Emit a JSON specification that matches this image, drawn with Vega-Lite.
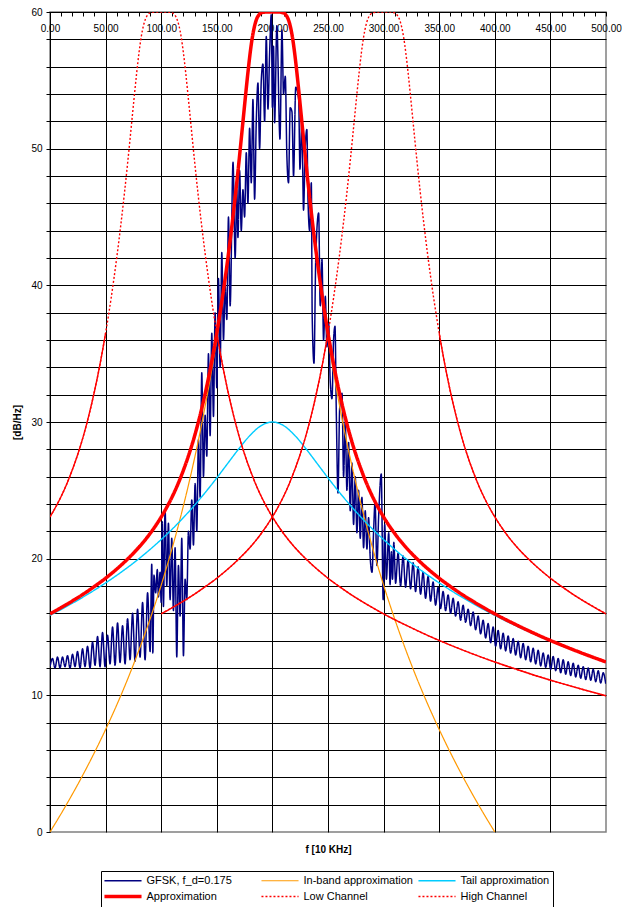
{
"$schema": "https://vega.github.io/schema/vega-lite/v6.json",
"width": 556,
"height": 820,
"padding": {"left": 12, "top": 7, "right": 0, "bottom": 0},
"config": {
  "font": "Liberation Sans",
  "view": {"stroke": "#808080", "strokeWidth": 1.5},
  "axis": {"labelFont": "Liberation Sans", "titleFont": "Liberation Sans"},
  "legend": {"labelFont": "Liberation Sans"}
},
"data": {"values": [
{"series":"GFSK, f_d=0.175","f":0,"db":12.1},{"series":"GFSK, f_d=0.175","f":2.25,"db":12.7},{"series":"GFSK, f_d=0.175","f":4.5,"db":12.0},{"series":"GFSK, f_d=0.175","f":6.75,"db":12.8},{"series":"GFSK, f_d=0.175","f":9,"db":12.0},{"series":"GFSK, f_d=0.175","f":11.25,"db":12.8},{"series":"GFSK, f_d=0.175","f":13.5,"db":12.1},{"series":"GFSK, f_d=0.175","f":15.75,"db":12.9},{"series":"GFSK, f_d=0.175","f":18,"db":12.0},{"series":"GFSK, f_d=0.175","f":20.25,"db":13.0},
{"series":"GFSK, f_d=0.175","f":22.5,"db":12.1},{"series":"GFSK, f_d=0.175","f":24.75,"db":13.2},{"series":"GFSK, f_d=0.175","f":27,"db":12.0},{"series":"GFSK, f_d=0.175","f":29.25,"db":13.4},{"series":"GFSK, f_d=0.175","f":31.5,"db":12.1},{"series":"GFSK, f_d=0.175","f":33.75,"db":13.6},{"series":"GFSK, f_d=0.175","f":36,"db":12.0},{"series":"GFSK, f_d=0.175","f":38.25,"db":13.9},{"series":"GFSK, f_d=0.175","f":40.5,"db":12.2},{"series":"GFSK, f_d=0.175","f":42.75,"db":14.3},
{"series":"GFSK, f_d=0.175","f":45,"db":12.1},{"series":"GFSK, f_d=0.175","f":47.25,"db":14.6},{"series":"GFSK, f_d=0.175","f":49.5,"db":12.1},{"series":"GFSK, f_d=0.175","f":51.75,"db":14.4},{"series":"GFSK, f_d=0.175","f":54,"db":12.3},{"series":"GFSK, f_d=0.175","f":56.25,"db":15.0},{"series":"GFSK, f_d=0.175","f":58.5,"db":12.2},{"series":"GFSK, f_d=0.175","f":60.75,"db":15.3},{"series":"GFSK, f_d=0.175","f":63,"db":12.4},{"series":"GFSK, f_d=0.175","f":65.25,"db":15.1},
{"series":"GFSK, f_d=0.175","f":67.5,"db":12.3},{"series":"GFSK, f_d=0.175","f":69.75,"db":15.6},{"series":"GFSK, f_d=0.175","f":72,"db":12.6},{"series":"GFSK, f_d=0.175","f":74.25,"db":16.0},{"series":"GFSK, f_d=0.175","f":76.5,"db":12.5},{"series":"GFSK, f_d=0.175","f":78.75,"db":16.3},{"series":"GFSK, f_d=0.175","f":81,"db":12.8},{"series":"GFSK, f_d=0.175","f":83.25,"db":16.8},{"series":"GFSK, f_d=0.175","f":85.5,"db":12.6},{"series":"GFSK, f_d=0.175","f":87.75,"db":17.5},
{"series":"GFSK, f_d=0.175","f":90,"db":13.2},{"series":"GFSK, f_d=0.175","f":91.5,"db":19.6},{"series":"GFSK, f_d=0.175","f":92.5,"db":13.1},{"series":"GFSK, f_d=0.175","f":93.5,"db":18.8},{"series":"GFSK, f_d=0.175","f":95,"db":17.5},{"series":"GFSK, f_d=0.175","f":96.5,"db":19.2},{"series":"GFSK, f_d=0.175","f":97.5,"db":17.2},{"series":"GFSK, f_d=0.175","f":99,"db":19.0},{"series":"GFSK, f_d=0.175","f":100,"db":16.8},{"series":"GFSK, f_d=0.175","f":101,"db":22.7},
{"series":"GFSK, f_d=0.175","f":102,"db":16.5},{"series":"GFSK, f_d=0.175","f":103.5,"db":23.6},{"series":"GFSK, f_d=0.175","f":105,"db":18.0},{"series":"GFSK, f_d=0.175","f":106.5,"db":22.6},{"series":"GFSK, f_d=0.175","f":108,"db":17.0},{"series":"GFSK, f_d=0.175","f":109.5,"db":21.5},{"series":"GFSK, f_d=0.175","f":111,"db":16.2},{"series":"GFSK, f_d=0.175","f":112.5,"db":20.8},{"series":"GFSK, f_d=0.175","f":114,"db":12.8},{"series":"GFSK, f_d=0.175","f":115.5,"db":19.5},
{"series":"GFSK, f_d=0.175","f":117,"db":15.8},{"series":"GFSK, f_d=0.175","f":118.5,"db":21.5},{"series":"GFSK, f_d=0.175","f":120,"db":12.9},{"series":"GFSK, f_d=0.175","f":121.5,"db":18.5},{"series":"GFSK, f_d=0.175","f":123,"db":17.0},{"series":"GFSK, f_d=0.175","f":124.5,"db":22.0},{"series":"GFSK, f_d=0.175","f":126,"db":20.7},{"series":"GFSK, f_d=0.175","f":127.5,"db":24.3},{"series":"GFSK, f_d=0.175","f":129,"db":21.0},{"series":"GFSK, f_d=0.175","f":130.5,"db":25.5},
{"series":"GFSK, f_d=0.175","f":132,"db":22.0},{"series":"GFSK, f_d=0.175","f":133.5,"db":28.7},{"series":"GFSK, f_d=0.175","f":135,"db":24.5},{"series":"GFSK, f_d=0.175","f":136.5,"db":33.6},{"series":"GFSK, f_d=0.175","f":138,"db":26.0},{"series":"GFSK, f_d=0.175","f":139.5,"db":30.5},{"series":"GFSK, f_d=0.175","f":141,"db":27.5},{"series":"GFSK, f_d=0.175","f":142.5,"db":35.0},{"series":"GFSK, f_d=0.175","f":144,"db":29.0},{"series":"GFSK, f_d=0.175","f":145.5,"db":36.5},
{"series":"GFSK, f_d=0.175","f":147,"db":30.4},{"series":"GFSK, f_d=0.175","f":148.5,"db":38.0},{"series":"GFSK, f_d=0.175","f":150,"db":32.5},{"series":"GFSK, f_d=0.175","f":151.5,"db":40.5},{"series":"GFSK, f_d=0.175","f":153,"db":34.0},{"series":"GFSK, f_d=0.175","f":154.5,"db":42.4},{"series":"GFSK, f_d=0.175","f":156,"db":36.0},{"series":"GFSK, f_d=0.175","f":157.5,"db":40.0},{"series":"GFSK, f_d=0.175","f":159,"db":37.5},{"series":"GFSK, f_d=0.175","f":160.5,"db":45.0},
{"series":"GFSK, f_d=0.175","f":162,"db":38.5},{"series":"GFSK, f_d=0.175","f":164.6,"db":49.0},{"series":"GFSK, f_d=0.175","f":166.5,"db":42.0},{"series":"GFSK, f_d=0.175","f":168,"db":47.0},{"series":"GFSK, f_d=0.175","f":169,"db":43.5},{"series":"GFSK, f_d=0.175","f":170.5,"db":48.4},{"series":"GFSK, f_d=0.175","f":172,"db":44.0},{"series":"GFSK, f_d=0.175","f":173.5,"db":47.0},{"series":"GFSK, f_d=0.175","f":175,"db":45.0},{"series":"GFSK, f_d=0.175","f":176.5,"db":49.7},
{"series":"GFSK, f_d=0.175","f":178,"db":46.0},{"series":"GFSK, f_d=0.175","f":179.5,"db":51.5},{"series":"GFSK, f_d=0.175","f":181,"db":47.5},{"series":"GFSK, f_d=0.175","f":182.5,"db":53.6},{"series":"GFSK, f_d=0.175","f":184,"db":46.3},{"series":"GFSK, f_d=0.175","f":185.5,"db":52.0},{"series":"GFSK, f_d=0.175","f":187,"db":54.8},{"series":"GFSK, f_d=0.175","f":188.5,"db":50.0},{"series":"GFSK, f_d=0.175","f":190,"db":55.0},{"series":"GFSK, f_d=0.175","f":191.5,"db":56.2},
{"series":"GFSK, f_d=0.175","f":193,"db":52.0},{"series":"GFSK, f_d=0.175","f":194.5,"db":58.2},{"series":"GFSK, f_d=0.175","f":196,"db":52.9},{"series":"GFSK, f_d=0.175","f":197.5,"db":57.0},{"series":"GFSK, f_d=0.175","f":199,"db":59.8},{"series":"GFSK, f_d=0.175","f":200,"db":53.0},{"series":"GFSK, f_d=0.175","f":201,"db":57.5},{"series":"GFSK, f_d=0.175","f":202,"db":51.9},{"series":"GFSK, f_d=0.175","f":204,"db":59.0},{"series":"GFSK, f_d=0.175","f":206.8,"db":50.7},
{"series":"GFSK, f_d=0.175","f":208.6,"db":58.7},{"series":"GFSK, f_d=0.175","f":210,"db":54.0},{"series":"GFSK, f_d=0.175","f":211.6,"db":55.3},{"series":"GFSK, f_d=0.175","f":213,"db":49.5},{"series":"GFSK, f_d=0.175","f":214.5,"db":47.5},{"series":"GFSK, f_d=0.175","f":216,"db":53.0},{"series":"GFSK, f_d=0.175","f":217.6,"db":52.7},{"series":"GFSK, f_d=0.175","f":219,"db":48.0},{"series":"GFSK, f_d=0.175","f":221,"db":54.5},{"series":"GFSK, f_d=0.175","f":223.6,"db":53.6},
{"series":"GFSK, f_d=0.175","f":224.8,"db":48.5},{"series":"GFSK, f_d=0.175","f":226.5,"db":52.0},{"series":"GFSK, f_d=0.175","f":228,"db":45.5},{"series":"GFSK, f_d=0.175","f":229.5,"db":50.0},{"series":"GFSK, f_d=0.175","f":231,"db":51.4},{"series":"GFSK, f_d=0.175","f":232,"db":46.3},{"series":"GFSK, f_d=0.175","f":233.5,"db":44.0},{"series":"GFSK, f_d=0.175","f":235,"db":47.5},{"series":"GFSK, f_d=0.175","f":235.8,"db":37.7},{"series":"GFSK, f_d=0.175","f":237.4,"db":34.3},
{"series":"GFSK, f_d=0.175","f":239,"db":42.0},{"series":"GFSK, f_d=0.175","f":241.6,"db":45.3},{"series":"GFSK, f_d=0.175","f":243,"db":38.5},{"series":"GFSK, f_d=0.175","f":244.6,"db":41.9},{"series":"GFSK, f_d=0.175","f":246,"db":36.0},{"series":"GFSK, f_d=0.175","f":247.6,"db":39.2},{"series":"GFSK, f_d=0.175","f":249,"db":35.5},{"series":"GFSK, f_d=0.175","f":250.6,"db":37.2},{"series":"GFSK, f_d=0.175","f":252,"db":33.0},{"series":"GFSK, f_d=0.175","f":253.6,"db":31.7},
{"series":"GFSK, f_d=0.175","f":255,"db":36.0},{"series":"GFSK, f_d=0.175","f":256.3,"db":37.0},{"series":"GFSK, f_d=0.175","f":257.5,"db":30.5},{"series":"GFSK, f_d=0.175","f":259,"db":24.8},{"series":"GFSK, f_d=0.175","f":260.5,"db":31.0},{"series":"GFSK, f_d=0.175","f":262.6,"db":32.1},{"series":"GFSK, f_d=0.175","f":264,"db":26.0},{"series":"GFSK, f_d=0.175","f":265.5,"db":30.0},{"series":"GFSK, f_d=0.175","f":267,"db":25.0},{"series":"GFSK, f_d=0.175","f":268.5,"db":28.5},
{"series":"GFSK, f_d=0.175","f":270,"db":23.5},{"series":"GFSK, f_d=0.175","f":271.5,"db":27.0},{"series":"GFSK, f_d=0.175","f":273,"db":22.5},{"series":"GFSK, f_d=0.175","f":274.5,"db":26.0},{"series":"GFSK, f_d=0.175","f":276,"db":21.9},{"series":"GFSK, f_d=0.175","f":277.5,"db":25.0},{"series":"GFSK, f_d=0.175","f":279,"db":21.5},{"series":"GFSK, f_d=0.175","f":280.5,"db":24.5},{"series":"GFSK, f_d=0.175","f":282,"db":20.8},{"series":"GFSK, f_d=0.175","f":283.5,"db":23.5},
{"series":"GFSK, f_d=0.175","f":285,"db":20.7},{"series":"GFSK, f_d=0.175","f":286.5,"db":23.0},{"series":"GFSK, f_d=0.175","f":288,"db":20.0},{"series":"GFSK, f_d=0.175","f":289.6,"db":19.0},{"series":"GFSK, f_d=0.175","f":291,"db":22.0},{"series":"GFSK, f_d=0.175","f":292.3,"db":24.1},{"series":"GFSK, f_d=0.175","f":294,"db":19.5},{"series":"GFSK, f_d=0.175","f":295.5,"db":23.0},{"series":"GFSK, f_d=0.175","f":297.9,"db":26.2},{"series":"GFSK, f_d=0.175","f":299.6,"db":17.0},
{"series":"GFSK, f_d=0.175","f":301,"db":22.5},{"series":"GFSK, f_d=0.175","f":302.5,"db":18.5},{"series":"GFSK, f_d=0.175","f":304.6,"db":21.9},{"series":"GFSK, f_d=0.175","f":305.8,"db":18.1},{"series":"GFSK, f_d=0.175","f":307,"db":20.5},{"series":"GFSK, f_d=0.175","f":308,"db":18.5},{"series":"GFSK, f_d=0.175","f":309.2,"db":21.2},{"series":"GFSK, f_d=0.175","f":310.8,"db":18.2},
{"series":"GFSK, f_d=0.175","f":313,"db":20.4},{"series":"GFSK, f_d=0.175","f":315.25,"db":18.0},{"series":"GFSK, f_d=0.175","f":317.5,"db":20.2},{"series":"GFSK, f_d=0.175","f":319.75,"db":17.9},{"series":"GFSK, f_d=0.175","f":322,"db":19.9},{"series":"GFSK, f_d=0.175","f":324.25,"db":17.8},{"series":"GFSK, f_d=0.175","f":326.5,"db":19.7},{"series":"GFSK, f_d=0.175","f":328.75,"db":17.6},{"series":"GFSK, f_d=0.175","f":331,"db":19.4},{"series":"GFSK, f_d=0.175","f":333.25,"db":17.4},
{"series":"GFSK, f_d=0.175","f":335.5,"db":19.0},{"series":"GFSK, f_d=0.175","f":337.75,"db":17.1},{"series":"GFSK, f_d=0.175","f":340,"db":18.7},{"series":"GFSK, f_d=0.175","f":342.25,"db":16.9},{"series":"GFSK, f_d=0.175","f":344.5,"db":18.3},{"series":"GFSK, f_d=0.175","f":346.75,"db":16.6},{"series":"GFSK, f_d=0.175","f":349,"db":17.9},{"series":"GFSK, f_d=0.175","f":351.25,"db":16.35},{"series":"GFSK, f_d=0.175","f":353.5,"db":17.6},{"series":"GFSK, f_d=0.175","f":355.75,"db":16.2},
{"series":"GFSK, f_d=0.175","f":358,"db":17.35},{"series":"GFSK, f_d=0.175","f":360.25,"db":16.0},{"series":"GFSK, f_d=0.175","f":362.5,"db":17.1},{"series":"GFSK, f_d=0.175","f":364.75,"db":15.8},{"series":"GFSK, f_d=0.175","f":367,"db":16.85},{"series":"GFSK, f_d=0.175","f":369.25,"db":15.5},{"series":"GFSK, f_d=0.175","f":371.5,"db":16.6},{"series":"GFSK, f_d=0.175","f":373.75,"db":15.35},{"series":"GFSK, f_d=0.175","f":376,"db":16.3},{"series":"GFSK, f_d=0.175","f":378.25,"db":15.1},
{"series":"GFSK, f_d=0.175","f":380.5,"db":16.1},{"series":"GFSK, f_d=0.175","f":382.75,"db":14.8},{"series":"GFSK, f_d=0.175","f":385,"db":15.8},{"series":"GFSK, f_d=0.175","f":387.25,"db":14.5},{"series":"GFSK, f_d=0.175","f":389.5,"db":15.5},{"series":"GFSK, f_d=0.175","f":391.75,"db":14.2},{"series":"GFSK, f_d=0.175","f":394,"db":15.25},{"series":"GFSK, f_d=0.175","f":396.25,"db":13.85},{"series":"GFSK, f_d=0.175","f":398.5,"db":15.0},{"series":"GFSK, f_d=0.175","f":400.75,"db":13.6},
{"series":"GFSK, f_d=0.175","f":403,"db":14.75},{"series":"GFSK, f_d=0.175","f":405.25,"db":13.4},{"series":"GFSK, f_d=0.175","f":407.5,"db":14.55},{"series":"GFSK, f_d=0.175","f":409.75,"db":13.25},{"series":"GFSK, f_d=0.175","f":412,"db":14.35},{"series":"GFSK, f_d=0.175","f":414.25,"db":13.1},{"series":"GFSK, f_d=0.175","f":416.5,"db":14.15},{"series":"GFSK, f_d=0.175","f":418.75,"db":12.95},{"series":"GFSK, f_d=0.175","f":421,"db":13.95},{"series":"GFSK, f_d=0.175","f":423.25,"db":12.75},
{"series":"GFSK, f_d=0.175","f":425.5,"db":13.8},{"series":"GFSK, f_d=0.175","f":427.75,"db":12.6},{"series":"GFSK, f_d=0.175","f":430,"db":13.6},{"series":"GFSK, f_d=0.175","f":432.25,"db":12.45},{"series":"GFSK, f_d=0.175","f":434.5,"db":13.45},{"series":"GFSK, f_d=0.175","f":436.75,"db":12.3},{"series":"GFSK, f_d=0.175","f":439,"db":13.3},{"series":"GFSK, f_d=0.175","f":441.25,"db":12.15},{"series":"GFSK, f_d=0.175","f":443.5,"db":13.1},{"series":"GFSK, f_d=0.175","f":445.75,"db":12.05},
{"series":"GFSK, f_d=0.175","f":448,"db":12.95},{"series":"GFSK, f_d=0.175","f":450.25,"db":11.9},{"series":"GFSK, f_d=0.175","f":452.5,"db":12.85},{"series":"GFSK, f_d=0.175","f":454.75,"db":11.8},{"series":"GFSK, f_d=0.175","f":457,"db":12.7},{"series":"GFSK, f_d=0.175","f":459.25,"db":11.65},{"series":"GFSK, f_d=0.175","f":461.5,"db":12.6},{"series":"GFSK, f_d=0.175","f":463.75,"db":11.55},{"series":"GFSK, f_d=0.175","f":466,"db":12.45},{"series":"GFSK, f_d=0.175","f":468.25,"db":11.45},
{"series":"GFSK, f_d=0.175","f":470.5,"db":12.35},{"series":"GFSK, f_d=0.175","f":472.75,"db":11.35},{"series":"GFSK, f_d=0.175","f":475,"db":12.2},{"series":"GFSK, f_d=0.175","f":477.25,"db":11.25},{"series":"GFSK, f_d=0.175","f":479.5,"db":12.1},{"series":"GFSK, f_d=0.175","f":481.75,"db":11.15},{"series":"GFSK, f_d=0.175","f":484,"db":12.0},{"series":"GFSK, f_d=0.175","f":486.25,"db":11.1},{"series":"GFSK, f_d=0.175","f":488.5,"db":11.9},{"series":"GFSK, f_d=0.175","f":490.75,"db":11.0},
{"series":"GFSK, f_d=0.175","f":493,"db":11.8},{"series":"GFSK, f_d=0.175","f":495.25,"db":10.9},{"series":"GFSK, f_d=0.175","f":497.5,"db":11.65},{"series":"GFSK, f_d=0.175","f":499.75,"db":10.85},
{"series":"In-band approximation","f":0,"db":0.0},{"series":"In-band approximation","f":10,"db":1.34},{"series":"In-band approximation","f":20,"db":2.75},{"series":"In-band approximation","f":30,"db":4.24},{"series":"In-band approximation","f":40,"db":5.82},{"series":"In-band approximation","f":50,"db":7.5},{"series":"In-band approximation","f":60,"db":9.29},{"series":"In-band approximation","f":70,"db":11.22},{"series":"In-band approximation","f":80,"db":13.31},{"series":"In-band approximation","f":90,"db":15.58},
{"series":"In-band approximation","f":100,"db":18.06},{"series":"In-band approximation","f":105,"db":19.4},{"series":"In-band approximation","f":110,"db":20.81},{"series":"In-band approximation","f":115,"db":22.3},{"series":"In-band approximation","f":120,"db":23.88},{"series":"In-band approximation","f":125,"db":25.56},{"series":"In-band approximation","f":130,"db":27.35},{"series":"In-band approximation","f":135,"db":29.28},{"series":"In-band approximation","f":140,"db":31.37},{"series":"In-band approximation","f":145,"db":33.63},
{"series":"In-band approximation","f":150,"db":36.11},{"series":"In-band approximation","f":155,"db":38.84},{"series":"In-band approximation","f":160,"db":41.87},{"series":"In-band approximation","f":164,"db":44.56},{"series":"In-band approximation","f":167,"db":46.74},{"series":"In-band approximation","f":170,"db":49.07},{"series":"In-band approximation","f":172,"db":50.69},{"series":"In-band approximation","f":174,"db":52.35},{"series":"In-band approximation","f":176,"db":54.0},{"series":"In-band approximation","f":178,"db":55.57},
{"series":"In-band approximation","f":180,"db":56.99},{"series":"In-band approximation","f":182,"db":58.15},{"series":"In-band approximation","f":184,"db":58.99},{"series":"In-band approximation","f":186,"db":59.52},{"series":"In-band approximation","f":188,"db":59.8},{"series":"In-band approximation","f":190,"db":59.93},{"series":"In-band approximation","f":195,"db":60},{"series":"In-band approximation","f":200,"db":60},{"series":"In-band approximation","f":205,"db":60},{"series":"In-band approximation","f":210,"db":59.93},
{"series":"In-band approximation","f":212,"db":59.8},{"series":"In-band approximation","f":214,"db":59.52},{"series":"In-band approximation","f":216,"db":58.99},{"series":"In-band approximation","f":218,"db":58.15},{"series":"In-band approximation","f":220,"db":56.99},{"series":"In-band approximation","f":222,"db":55.57},{"series":"In-band approximation","f":224,"db":54.0},{"series":"In-band approximation","f":226,"db":52.35},{"series":"In-band approximation","f":228,"db":50.69},{"series":"In-band approximation","f":230,"db":49.07},
{"series":"In-band approximation","f":233,"db":46.74},{"series":"In-band approximation","f":236,"db":44.56},{"series":"In-band approximation","f":240,"db":41.87},{"series":"In-band approximation","f":245,"db":38.84},{"series":"In-band approximation","f":250,"db":36.11},{"series":"In-band approximation","f":255,"db":33.63},{"series":"In-band approximation","f":260,"db":31.37},{"series":"In-band approximation","f":265,"db":29.28},{"series":"In-band approximation","f":270,"db":27.35},{"series":"In-band approximation","f":275,"db":25.56},
{"series":"In-band approximation","f":280,"db":23.88},{"series":"In-band approximation","f":285,"db":22.3},{"series":"In-band approximation","f":290,"db":20.81},{"series":"In-band approximation","f":295,"db":19.4},{"series":"In-band approximation","f":300,"db":18.06},{"series":"In-band approximation","f":310,"db":15.58},{"series":"In-band approximation","f":320,"db":13.31},{"series":"In-band approximation","f":330,"db":11.22},{"series":"In-band approximation","f":340,"db":9.29},{"series":"In-band approximation","f":350,"db":7.5},
{"series":"In-band approximation","f":360,"db":5.82},{"series":"In-band approximation","f":370,"db":4.24},{"series":"In-band approximation","f":380,"db":2.75},{"series":"In-band approximation","f":390,"db":1.34},{"series":"In-band approximation","f":400,"db":0.0},
{"series":"Tail approximation","f":0,"db":15.85},{"series":"Tail approximation","f":20,"db":16.73},{"series":"Tail approximation","f":40,"db":17.7},{"series":"Tail approximation","f":60,"db":18.78},{"series":"Tail approximation","f":80,"db":20.0},{"series":"Tail approximation","f":100,"db":21.4},{"series":"Tail approximation","f":110,"db":22.17},{"series":"Tail approximation","f":120,"db":23.01},{"series":"Tail approximation","f":130,"db":23.91},{"series":"Tail approximation","f":140,"db":24.88},
{"series":"Tail approximation","f":150,"db":25.91},{"series":"Tail approximation","f":160,"db":26.99},{"series":"Tail approximation","f":170,"db":28.06},{"series":"Tail approximation","f":180,"db":29.03},{"series":"Tail approximation","f":190,"db":29.74},{"series":"Tail approximation","f":200,"db":30.0},{"series":"Tail approximation","f":210,"db":29.74},{"series":"Tail approximation","f":220,"db":29.03},{"series":"Tail approximation","f":230,"db":28.06},{"series":"Tail approximation","f":240,"db":26.99},
{"series":"Tail approximation","f":250,"db":25.91},{"series":"Tail approximation","f":260,"db":24.88},{"series":"Tail approximation","f":270,"db":23.91},{"series":"Tail approximation","f":280,"db":23.01},{"series":"Tail approximation","f":290,"db":22.17},{"series":"Tail approximation","f":300,"db":21.4},{"series":"Tail approximation","f":320,"db":20.0},{"series":"Tail approximation","f":340,"db":18.78},{"series":"Tail approximation","f":360,"db":17.7},{"series":"Tail approximation","f":380,"db":16.73},
{"series":"Tail approximation","f":400,"db":15.85},{"series":"Tail approximation","f":420,"db":15.05},{"series":"Tail approximation","f":440,"db":14.32},{"series":"Tail approximation","f":460,"db":13.64},{"series":"Tail approximation","f":480,"db":13.01},{"series":"Tail approximation","f":500,"db":12.42},
{"series":"Approximation","f":0,"db":15.96},{"series":"Approximation","f":10,"db":16.42},{"series":"Approximation","f":20,"db":16.9},{"series":"Approximation","f":30,"db":17.41},{"series":"Approximation","f":40,"db":17.97},{"series":"Approximation","f":50,"db":18.57},{"series":"Approximation","f":60,"db":19.24},{"series":"Approximation","f":70,"db":19.99},{"series":"Approximation","f":80,"db":20.84},{"series":"Approximation","f":90,"db":21.84},
{"series":"Approximation","f":100,"db":23.05},{"series":"Approximation","f":105,"db":23.76},{"series":"Approximation","f":110,"db":24.55},{"series":"Approximation","f":115,"db":25.45},{"series":"Approximation","f":120,"db":26.48},{"series":"Approximation","f":125,"db":27.64},{"series":"Approximation","f":130,"db":28.97},{"series":"Approximation","f":135,"db":30.5},{"series":"Approximation","f":140,"db":32.25},{"series":"Approximation","f":145,"db":34.24},
{"series":"Approximation","f":150,"db":36.51},{"series":"Approximation","f":155,"db":39.08},{"series":"Approximation","f":160,"db":42.01},{"series":"Approximation","f":164,"db":44.64},{"series":"Approximation","f":167,"db":46.79},{"series":"Approximation","f":170,"db":49.1},{"series":"Approximation","f":172,"db":50.72},{"series":"Approximation","f":174,"db":52.37},{"series":"Approximation","f":176,"db":54.01},{"series":"Approximation","f":178,"db":55.58},
{"series":"Approximation","f":180,"db":57.0},{"series":"Approximation","f":182,"db":58.16},{"series":"Approximation","f":184,"db":58.99},{"series":"Approximation","f":186,"db":59.52},{"series":"Approximation","f":188,"db":59.8},{"series":"Approximation","f":190,"db":59.94},{"series":"Approximation","f":195,"db":60},{"series":"Approximation","f":200,"db":60},{"series":"Approximation","f":205,"db":60},{"series":"Approximation","f":210,"db":59.94},
{"series":"Approximation","f":212,"db":59.8},{"series":"Approximation","f":214,"db":59.52},{"series":"Approximation","f":216,"db":58.99},{"series":"Approximation","f":218,"db":58.16},{"series":"Approximation","f":220,"db":57.0},{"series":"Approximation","f":222,"db":55.58},{"series":"Approximation","f":224,"db":54.01},{"series":"Approximation","f":226,"db":52.37},{"series":"Approximation","f":228,"db":50.72},{"series":"Approximation","f":230,"db":49.1},
{"series":"Approximation","f":233,"db":46.79},{"series":"Approximation","f":236,"db":44.64},{"series":"Approximation","f":240,"db":42.01},{"series":"Approximation","f":245,"db":39.08},{"series":"Approximation","f":250,"db":36.51},{"series":"Approximation","f":255,"db":34.24},{"series":"Approximation","f":260,"db":32.25},{"series":"Approximation","f":265,"db":30.5},{"series":"Approximation","f":270,"db":28.97},{"series":"Approximation","f":275,"db":27.64},
{"series":"Approximation","f":280,"db":26.48},{"series":"Approximation","f":285,"db":25.45},{"series":"Approximation","f":290,"db":24.55},{"series":"Approximation","f":295,"db":23.76},{"series":"Approximation","f":300,"db":23.05},{"series":"Approximation","f":310,"db":21.84},{"series":"Approximation","f":320,"db":20.84},{"series":"Approximation","f":330,"db":19.99},{"series":"Approximation","f":340,"db":19.24},{"series":"Approximation","f":350,"db":18.57},
{"series":"Approximation","f":360,"db":17.97},{"series":"Approximation","f":370,"db":17.41},{"series":"Approximation","f":380,"db":16.9},{"series":"Approximation","f":390,"db":16.42},{"series":"Approximation","f":400,"db":15.96},{"series":"Approximation","f":420,"db":15.13},{"series":"Approximation","f":440,"db":14.37},{"series":"Approximation","f":460,"db":13.68},{"series":"Approximation","f":480,"db":13.04},{"series":"Approximation","f":500,"db":12.44},
{"series":"Low Channel","f":0,"db":23.05},{"series":"Low Channel","f":5,"db":23.76},{"series":"Low Channel","f":10,"db":24.55},{"series":"Low Channel","f":15,"db":25.45},{"series":"Low Channel","f":20,"db":26.48},{"series":"Low Channel","f":25,"db":27.64},{"series":"Low Channel","f":30,"db":28.97},{"series":"Low Channel","f":35,"db":30.5},{"series":"Low Channel","f":40,"db":32.25},{"series":"Low Channel","f":45,"db":34.24},
{"series":"Low Channel","f":50,"db":36.51},{"series":"Low Channel","f":55,"db":39.08},{"series":"Low Channel","f":60,"db":42.01},{"series":"Low Channel","f":64,"db":44.64},{"series":"Low Channel","f":67,"db":46.79},{"series":"Low Channel","f":70,"db":49.1},{"series":"Low Channel","f":72,"db":50.72},{"series":"Low Channel","f":74,"db":52.37},{"series":"Low Channel","f":76,"db":54.01},{"series":"Low Channel","f":78,"db":55.58},
{"series":"Low Channel","f":80,"db":57.0},{"series":"Low Channel","f":82,"db":58.16},{"series":"Low Channel","f":84,"db":58.99},{"series":"Low Channel","f":86,"db":59.52},{"series":"Low Channel","f":88,"db":59.8},{"series":"Low Channel","f":90,"db":59.94},{"series":"Low Channel","f":95,"db":60},{"series":"Low Channel","f":100,"db":60},{"series":"Low Channel","f":105,"db":60},{"series":"Low Channel","f":110,"db":59.94},
{"series":"Low Channel","f":112,"db":59.8},{"series":"Low Channel","f":114,"db":59.52},{"series":"Low Channel","f":116,"db":58.99},{"series":"Low Channel","f":118,"db":58.16},{"series":"Low Channel","f":120,"db":57.0},{"series":"Low Channel","f":122,"db":55.58},{"series":"Low Channel","f":124,"db":54.01},{"series":"Low Channel","f":126,"db":52.37},{"series":"Low Channel","f":128,"db":50.72},{"series":"Low Channel","f":130,"db":49.1},
{"series":"Low Channel","f":133,"db":46.79},{"series":"Low Channel","f":136,"db":44.64},{"series":"Low Channel","f":140,"db":42.01},{"series":"Low Channel","f":145,"db":39.08},{"series":"Low Channel","f":150,"db":36.51},{"series":"Low Channel","f":155,"db":34.24},{"series":"Low Channel","f":160,"db":32.25},{"series":"Low Channel","f":165,"db":30.5},{"series":"Low Channel","f":170,"db":28.97},{"series":"Low Channel","f":175,"db":27.64},
{"series":"Low Channel","f":180,"db":26.48},{"series":"Low Channel","f":185,"db":25.45},{"series":"Low Channel","f":190,"db":24.55},{"series":"Low Channel","f":195,"db":23.76},{"series":"Low Channel","f":200,"db":23.05},{"series":"Low Channel","f":210,"db":21.84},{"series":"Low Channel","f":220,"db":20.84},{"series":"Low Channel","f":230,"db":19.99},{"series":"Low Channel","f":240,"db":19.24},{"series":"Low Channel","f":250,"db":18.57},
{"series":"Low Channel","f":260,"db":17.97},{"series":"Low Channel","f":270,"db":17.41},{"series":"Low Channel","f":280,"db":16.9},{"series":"Low Channel","f":290,"db":16.42},{"series":"Low Channel","f":300,"db":15.96},{"series":"Low Channel","f":320,"db":15.13},{"series":"Low Channel","f":340,"db":14.37},{"series":"Low Channel","f":360,"db":13.68},{"series":"Low Channel","f":380,"db":13.04},{"series":"Low Channel","f":400,"db":12.44},
{"series":"Low Channel","f":420,"db":11.89},{"series":"Low Channel","f":440,"db":11.36},{"series":"Low Channel","f":460,"db":10.87},{"series":"Low Channel","f":480,"db":10.41},{"series":"Low Channel","f":500,"db":9.97},
{"series":"High Channel","f":100,"db":15.96},{"series":"High Channel","f":110,"db":16.42},{"series":"High Channel","f":120,"db":16.9},{"series":"High Channel","f":130,"db":17.41},{"series":"High Channel","f":140,"db":17.97},{"series":"High Channel","f":150,"db":18.57},{"series":"High Channel","f":160,"db":19.24},{"series":"High Channel","f":170,"db":19.99},{"series":"High Channel","f":180,"db":20.84},{"series":"High Channel","f":190,"db":21.84},
{"series":"High Channel","f":200,"db":23.05},{"series":"High Channel","f":205,"db":23.76},{"series":"High Channel","f":210,"db":24.55},{"series":"High Channel","f":215,"db":25.45},{"series":"High Channel","f":220,"db":26.48},{"series":"High Channel","f":225,"db":27.64},{"series":"High Channel","f":230,"db":28.97},{"series":"High Channel","f":235,"db":30.5},{"series":"High Channel","f":240,"db":32.25},{"series":"High Channel","f":245,"db":34.24},
{"series":"High Channel","f":250,"db":36.51},{"series":"High Channel","f":255,"db":39.08},{"series":"High Channel","f":260,"db":42.01},{"series":"High Channel","f":264,"db":44.64},{"series":"High Channel","f":267,"db":46.79},{"series":"High Channel","f":270,"db":49.1},{"series":"High Channel","f":272,"db":50.72},{"series":"High Channel","f":274,"db":52.37},{"series":"High Channel","f":276,"db":54.01},{"series":"High Channel","f":278,"db":55.58},
{"series":"High Channel","f":280,"db":57.0},{"series":"High Channel","f":282,"db":58.16},{"series":"High Channel","f":284,"db":58.99},{"series":"High Channel","f":286,"db":59.52},{"series":"High Channel","f":288,"db":59.8},{"series":"High Channel","f":290,"db":59.94},{"series":"High Channel","f":295,"db":60},{"series":"High Channel","f":300,"db":60},{"series":"High Channel","f":305,"db":60},{"series":"High Channel","f":310,"db":59.94},
{"series":"High Channel","f":312,"db":59.8},{"series":"High Channel","f":314,"db":59.52},{"series":"High Channel","f":316,"db":58.99},{"series":"High Channel","f":318,"db":58.16},{"series":"High Channel","f":320,"db":57.0},{"series":"High Channel","f":322,"db":55.58},{"series":"High Channel","f":324,"db":54.01},{"series":"High Channel","f":326,"db":52.37},{"series":"High Channel","f":328,"db":50.72},{"series":"High Channel","f":330,"db":49.1},
{"series":"High Channel","f":333,"db":46.79},{"series":"High Channel","f":336,"db":44.64},{"series":"High Channel","f":340,"db":42.01},{"series":"High Channel","f":345,"db":39.08},{"series":"High Channel","f":350,"db":36.51},{"series":"High Channel","f":355,"db":34.24},{"series":"High Channel","f":360,"db":32.25},{"series":"High Channel","f":365,"db":30.5},{"series":"High Channel","f":370,"db":28.97},{"series":"High Channel","f":375,"db":27.64},
{"series":"High Channel","f":380,"db":26.48},{"series":"High Channel","f":385,"db":25.45},{"series":"High Channel","f":390,"db":24.55},{"series":"High Channel","f":395,"db":23.76},{"series":"High Channel","f":400,"db":23.05},{"series":"High Channel","f":410,"db":21.84},{"series":"High Channel","f":420,"db":20.84},{"series":"High Channel","f":430,"db":19.99},{"series":"High Channel","f":440,"db":19.24},{"series":"High Channel","f":450,"db":18.57},
{"series":"High Channel","f":460,"db":17.97},{"series":"High Channel","f":470,"db":17.41},{"series":"High Channel","f":480,"db":16.9},{"series":"High Channel","f":490,"db":16.42},{"series":"High Channel","f":500,"db":15.96}
]},
"layer": [
 {
  "mark": {"type": "line", "interpolate": "monotone", "clip": true},
  "encoding": {
    "x": {"field": "f", "type": "quantitative", "scale": {"domain": [0, 500], "nice": false, "zero": false},
      "axis": {"orient": "top", "title": null,
        "values": [0,10,20,30,40,50,60,70,80,90,100,110,120,130,140,150,160,170,180,190,200,210,220,230,240,250,260,270,280,290,300,310,320,330,340,350,360,370,380,390,400,410,420,430,440,450,460,470,480,490,500],
        "labelExpr": "datum.value % 50 === 0 ? format(datum.value, '.2f') : ''",
        "labelOverlap": false, "labelFlush": false, "labelBaseline": "alphabetic",
        "labelFontSize": 10, "labelColor": "#000", "labelPadding": -15,
        "tickSize": -4, "tickColor": "#000", "domainColor": "#000",
        "grid": true, "gridColor": "#000", "gridWidth": 1,
        "gridOpacity": {"condition": {"test": "datum.value % 50 === 0 && datum.value > 0 && datum.value < 500", "value": 1}, "value": 0}}},
    "y": {"field": "db", "type": "quantitative", "scale": {"domain": [0, 60], "nice": false, "zero": true},
      "axis": {"title": "[dB/Hz]", "titleFontSize": 10, "titleFontWeight": "bold", "titleColor": "#000", "titlePadding": 8,
        "values": [0,2,4,6,8,10,12,14,16,18,20,22,24,26,28,30,32,34,36,38,40,42,44,46,48,50,52,54,56,58,60],
        "labelExpr": "datum.value % 10 === 0 ? datum.label : ''",
        "labelOverlap": false, "labelFontSize": 10, "labelColor": "#000", "labelPadding": 4,
        "tickSize": 4, "tickColor": "#000", "domainColor": "#000",
        "grid": true, "gridColor": "#000", "gridWidth": 1,
        "gridOpacity": {"condition": {"test": "datum.value > 0", "value": 1}, "value": 0}}},
    "color": {"field": "series", "type": "nominal",
      "scale": {"domain": ["GFSK, f_d=0.175", "In-band approximation", "Tail approximation", "Approximation", "Low Channel", "High Channel"],
                "range": ["#000080", "#FF9900", "#00CCFF", "#FF0000", "#FF0000", "#FF0000"]},
      "legend": {"title": null, "orient": "none", "legendX": 51, "legendY": 859, "direction": "horizontal", "columns": 3, "gridAlign": "all",
        "symbolType": "M-5,0H5", "symbolSize": 55, "symbolOffset": 13.5, "labelOffset": 18,
        "labelFontSize": 11, "labelColor": "#000",
        "strokeColor": "#000", "fillColor": "#fff", "padding": 3, "columnPadding": 2, "rowPadding": 2, "labelLimit": 250}},
    "strokeDash": {"field": "series", "type": "nominal",
      "scale": {"domain": ["GFSK, f_d=0.175", "In-band approximation", "Tail approximation", "Approximation", "Low Channel", "High Channel"],
                "range": [[1,0],[1,0],[1,0],[1,0],[2,2],[2,2]]},
      "legend": {"title": null}},
    "strokeWidth": {"field": "series", "type": "nominal",
      "scale": {"type": "ordinal", "domain": ["GFSK, f_d=0.175", "In-band approximation", "Tail approximation", "Approximation", "Low Channel", "High Channel"],
                "range": [1.5, 1.2, 1.4, 3.5, 1.4, 1.4]},
      "legend": {"title": null}}
  }
 },
 {
  "transform": [
    {"filter": {"field": "series", "oneOf": ["Low Channel", "High Channel"]}},
    {"filter": "datum.db <= 37"},
    {"calculate": "datum.series === 'Low Channel' ? (datum.f < 100 ? 'rising' : 'falling') : (datum.f < 300 ? 'rising' : 'falling')", "as": "side"}
  ],
  "mark": {"type": "line", "interpolate": "monotone", "clip": true, "color": "#FF0000", "strokeWidth": 1.4},
  "encoding": {
    "x": {"field": "f", "type": "quantitative",
      "axis": {"orient": "bottom", "title": "f [10 KHz]", "titleFontSize": 10, "titleFontWeight": "bold", "titleColor": "#000", "titlePadding": 12,
        "labels": false, "ticks": false, "domain": false, "grid": false}},
    "y": {"field": "db", "type": "quantitative", "axis": null},
    "detail": [{"field": "series"}, {"field": "side"}]
  }
 }
],
"resolve": {"axis": {"x": "independent", "y": "independent"}}
}
